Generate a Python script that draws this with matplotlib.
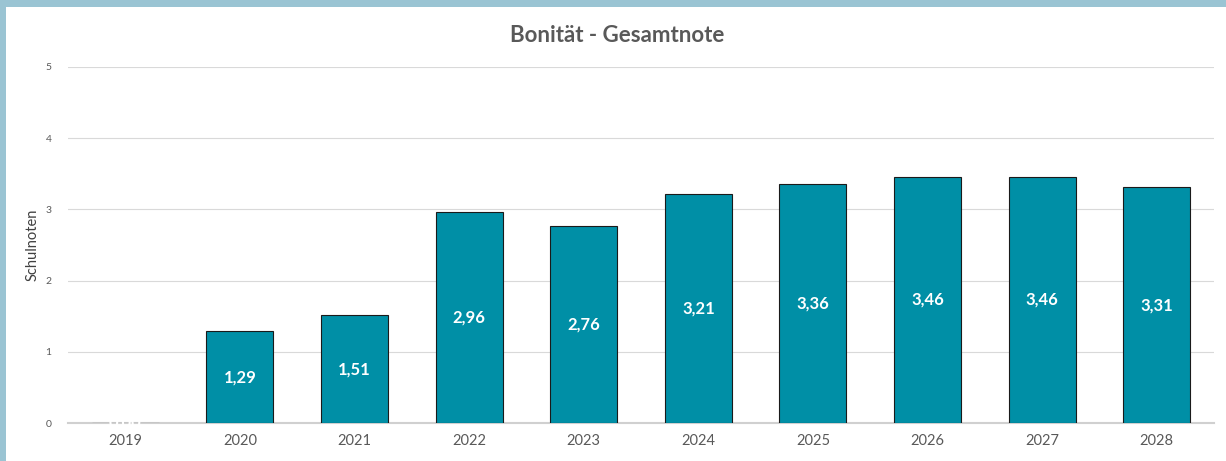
import matplotlib
matplotlib.use("Agg")
import matplotlib.pyplot as plt
from matplotlib.patches import Rectangle

years = ["2019", "2020", "2021", "2022", "2023", "2024", "2025", "2026", "2027", "2028"]
values = [0.00, 1.29, 1.51, 2.96, 2.76, 3.21, 3.36, 3.46, 3.46, 3.31]
yticks = [0, 1, 2, 3, 4, 5]

plt.rcParams['font.family'] = ['Lato', 'DejaVu Sans']

fig = plt.figure(figsize=(12.26, 4.61), dpi=100)
fig.patch.set_facecolor('white')
# border bands
fig.patches.append(Rectangle((0, 1 - 7/461), 1, 7/461, transform=fig.transFigure,
                             facecolor='#9AC4D3', edgecolor='none', zorder=0))
fig.patches.append(Rectangle((0, 0), 6/1226, 1, transform=fig.transFigure,
                             facecolor='#9AC4D3', edgecolor='none', zorder=0))

ax = fig.add_axes([68/1226, 1 - 423/461, (1214 - 68)/1226, (423 - 67)/461])
x = list(range(len(years)))
bars = ax.bar(x, values, width=0.585, color='#008FA6', edgecolor='#1a1a1a', linewidth=0.8, zorder=3)
for xi, v in zip(x, values):
    ax.text(xi, v / 2, f"{v:.2f}".replace('.', ','), ha='center', va='center',
            color='white', fontsize=12, fontweight='bold', zorder=4)

ax.set_xlim(-0.5, len(years) - 0.5)
ax.set_ylim(0, 5)
ax.set_yticks(yticks)
ax.set_yticklabels([str(t) for t in yticks], fontsize=7.5, color='#595959')
ax.set_xticks(x)
ax.set_xticklabels(years, fontsize=10.5, color='#595959')
ax.tick_params(axis='both', length=0)
ax.tick_params(axis='y', pad=12)
ax.tick_params(axis='x', pad=8)
ax.grid(axis='y', color='#D9D9D9', linewidth=0.8, zorder=0)
for s in ['top', 'right', 'left']:
    ax.spines[s].set_visible(False)
ax.spines['bottom'].set_color('#D0D0D0')
ax.spines['bottom'].set_linewidth(1.5)
ax.spines['bottom'].set_zorder(2)
ax.set_ylabel("Schulnoten", fontsize=10.5, color='#404040', labelpad=4)

fig.text(617/1226, 1 - 36/461, "Bonität - Gesamtnote", ha='center', va='center',
         fontsize=16, fontweight='bold', color='#595959')

fig.savefig("out.png", dpi=100, facecolor='white')
